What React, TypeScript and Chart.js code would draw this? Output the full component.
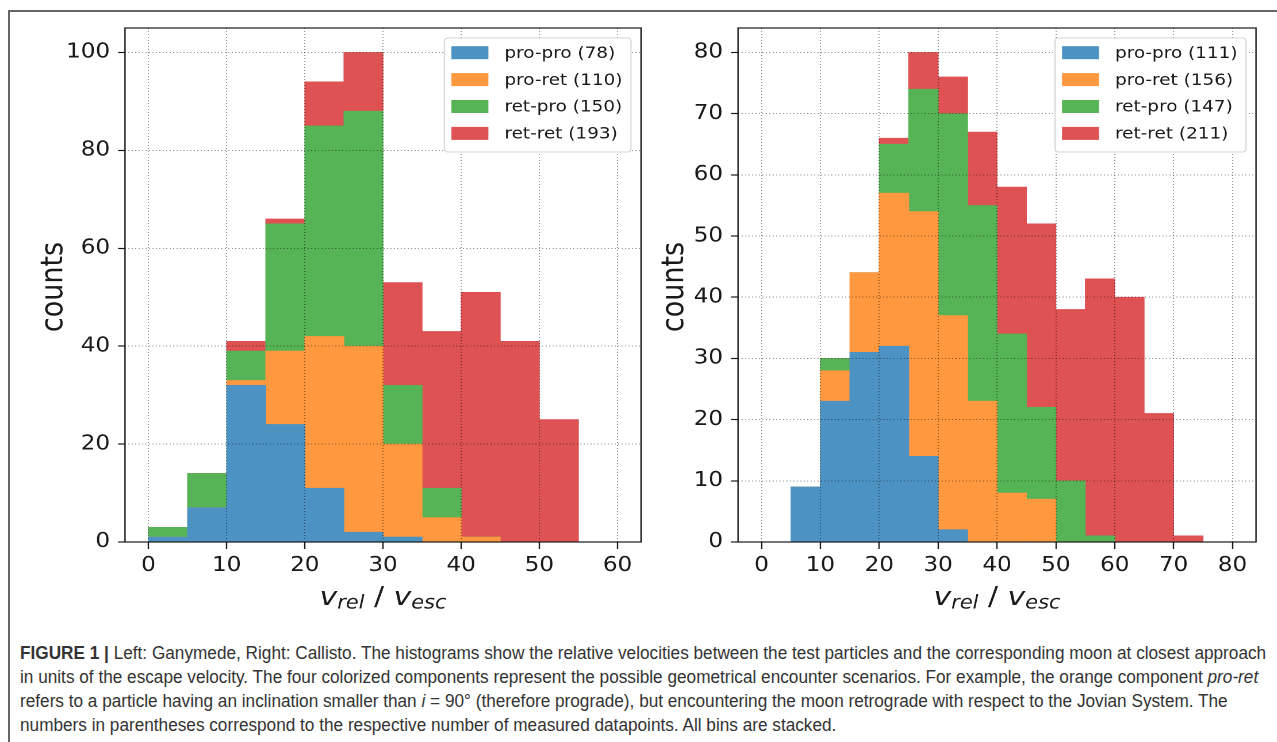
import React, { useEffect, useLayoutEffect, useRef, useState } from "react";
import { Chart, registerables } from "chart.js";

Chart.register(...registerables);

// The reference figure is stretched horizontally relative to its glyph heights.
const SX = 1.15;
const FONT = "'DejaVu Sans', 'Noto Sans', sans-serif";
const INK = "#1a1a1a";
const GRID = "rgba(0,0,0,0.42)";

const binWidth = 5;
const seriesNames = ["pro-pro", "pro-ret", "ret-pro", "ret-ret"];
const seriesColors = ["#4c92c3", "#ff983e", "#56b356", "#de5253"];

// Left panel: Ganymede
const ganyBinStarts = [0, 5, 10, 15, 20, 25, 30, 35, 40, 45, 50, 55];
const ganyProPro = [1, 7, 32, 24, 11, 2, 1, 0, 0, 0, 0, 0];
const ganyProRet = [0, 0, 1, 15, 31, 38, 19, 5, 1, 0, 0, 0];
const ganyRetPro = [2, 7, 6, 26, 43, 48, 12, 6, 0, 0, 0, 0];
const ganyRetRet = [0, 0, 2, 1, 9, 12, 21, 32, 50, 41, 25, 0];
const ganyCounts = [78, 110, 150, 193];
const ganyXTicks = [0, 10, 20, 30, 40, 50, 60];
const ganyYTicks = [0, 20, 40, 60, 80, 100];

// Right panel: Callisto
const calBinStarts = [0, 5, 10, 15, 20, 25, 30, 35, 40, 45, 50, 55, 60, 65, 70, 75];
const calProPro = [0, 9, 23, 31, 32, 14, 2, 0, 0, 0, 0, 0, 0, 0, 0, 0];
const calProRet = [0, 0, 5, 13, 25, 40, 35, 23, 8, 7, 0, 0, 0, 0, 0, 0];
const calRetPro = [0, 0, 2, 0, 8, 20, 33, 32, 26, 15, 10, 1, 0, 0, 0, 0];
const calRetRet = [0, 0, 0, 0, 1, 6, 6, 12, 24, 30, 28, 42, 40, 21, 1, 0];
const calCounts = [111, 156, 147, 211];
const calXTicks = [0, 10, 20, 30, 40, 50, 60, 70, 80];
const calYTicks = [0, 10, 20, 30, 40, 50, 60, 70, 80];

type PanelProps = {
  binStarts: number[];
  series: number[][];
  counts: number[];
  xMin: number;
  xMax: number;
  yMax: number;
  xTicks: number[];
  yTicks: number[];
  pageLeft: number;
  canvasW: number;
  canvasH: number;
  areaLeft: number;
  areaRight: number;
  areaTop: number;
  areaBottom: number;
  countsX: number;
};

function roundRect(ctx: CanvasRenderingContext2D, x: number, y: number, w: number, h: number, r: number) {
  ctx.beginPath();
  ctx.moveTo(x + r, y);
  ctx.lineTo(x + w - r, y);
  ctx.arcTo(x + w, y, x + w, y + r, r);
  ctx.lineTo(x + w, y + h - r);
  ctx.arcTo(x + w, y + h, x + w - r, y + h, r);
  ctx.lineTo(x + r, y + h);
  ctx.arcTo(x, y + h, x, y + h - r, r);
  ctx.lineTo(x, y + r);
  ctx.arcTo(x, y, x + r, y, r);
  ctx.closePath();
}

function drawXTitle(ctx: CanvasRenderingContext2D, cx: number, baseline: number, size: number) {
  const sub = size * 0.7;
  const parts = [
    { t: "v", font: `italic ${size}px ${FONT}`, dy: 0 },
    { t: "rel", font: `italic ${sub}px ${FONT}`, dy: size * 0.13 },
    { t: " / ", font: `${size}px ${FONT}`, dy: 0 },
    { t: "v", font: `italic ${size}px ${FONT}`, dy: 0 },
    { t: "esc", font: `italic ${sub}px ${FONT}`, dy: size * 0.13 },
  ];
  let total = 0;
  const widths = parts.map((p) => {
    ctx.font = p.font;
    const w = ctx.measureText(p.t).width;
    total += w;
    return w;
  });
  let x = cx - total / 2;
  ctx.textAlign = "left";
  ctx.textBaseline = "alphabetic";
  ctx.fillStyle = INK;
  parts.forEach((p, i) => {
    ctx.font = p.font;
    ctx.fillText(p.t, x, baseline + p.dy);
    x += widths[i];
  });
}

function Panel(props: PanelProps) {
  const ref = useRef<HTMLCanvasElement>(null);
  useEffect(() => {
    const canvas = ref.current as HTMLCanvasElement;
    const p = props;
    const datasets = p.series.map((vals, i) => ({
      label: seriesNames[i],
      data: p.binStarts.map((s, j) => ({ x: s + binWidth / 2, y: vals[j] })),
      backgroundColor: seriesColors[i],
      borderWidth: 0,
      barPercentage: 1,
      categoryPercentage: 1,
    }));

    const decor = {
      id: "decor",
      afterDraw(chart: any) {
        const ctx: CanvasRenderingContext2D = chart.ctx;
        const a = chart.chartArea;
        ctx.save();
        // spines
        ctx.strokeStyle = INK;
        ctx.lineWidth = 1.2;
        ctx.strokeRect(a.left, a.top, a.right - a.left, a.bottom - a.top);
        ctx.restore();

        // y title
        ctx.save();
        ctx.fillStyle = INK;
        ctx.font = `27px ${FONT}`;
        ctx.translate(p.countsX, (a.top + a.bottom) / 2 + 2);
        ctx.rotate(-Math.PI / 2);
        ctx.textAlign = "center";
        ctx.textBaseline = "alphabetic";
        ctx.fillText("counts", 0, 0);
        ctx.restore();

        // x title
        ctx.save();
        drawXTitle(ctx, (a.left + a.right) / 2, 605, 26);
        ctx.restore();

        // legend
        ctx.save();
        ctx.font = `16px ${FONT}`;
        const labels = seriesNames.map((n, i) => `${n} (${p.counts[i]})`);
        const tw = Math.max(...labels.map((l) => ctx.measureText(l).width));
        const textOff = 60 / SX;
        const boxW = textOff + tw + 8.5 / SX;
        const boxH = 114;
        const boxR = a.right - 10 / SX;
        const boxL = boxR - boxW;
        const boxT = a.top + 10;
        roundRect(ctx, boxL, boxT, boxW, boxH, 3);
        ctx.fillStyle = "#ffffff";
        ctx.fill();
        ctx.strokeStyle = "#d4d4d4";
        ctx.lineWidth = 1;
        ctx.stroke();
        labels.forEach((l, i) => {
          const cy = boxT + 14.7 + i * 26.9;
          ctx.fillStyle = seriesColors[i];
          ctx.fillRect(boxL + 7 / SX, cy - 6.5, 37 / SX, 13);
          ctx.fillStyle = INK;
          ctx.textAlign = "left";
          ctx.textBaseline = "middle";
          ctx.fillText(l, boxL + textOff, cy + 1);
        });
        ctx.restore();
      },
    };

    const chart = new Chart(canvas, {
      type: "bar",
      data: { datasets } as any,
      options: {
        animation: false,
        responsive: false,
        devicePixelRatio: 2,
        events: [],
        layout: { padding: { left: 0, top: p.areaTop, right: p.canvasW - p.areaRight, bottom: 0 } },
        plugins: { legend: { display: false }, tooltip: { enabled: false } },
        scales: {
          x: {
            type: "linear",
            stacked: true,
            offset: false,
            min: p.xMin,
            max: p.xMax,
            afterBuildTicks: (s: any) => {
              s.ticks = p.xTicks.map((v) => ({ value: v }));
            },
            afterFit: (s: any) => {
              s.height = p.canvasH - p.areaBottom;
            },
            grid: {
              offset: false,
              z: 1,
              color: GRID,
              lineWidth: 1,
              tickLength: 7,
              tickColor: INK,
              tickWidth: 1.2,
              tickBorderDash: [],
            },
            border: { display: false, dash: [1, 2] },
            ticks: {
              padding: 5,
              color: INK,
              font: { size: 20, family: FONT },
              maxRotation: 0,
              autoSkip: false,
            },
          },
          y: {
            type: "linear",
            stacked: true,
            min: 0,
            max: p.yMax,
            afterBuildTicks: (s: any) => {
              s.ticks = p.yTicks.map((v) => ({ value: v }));
            },
            afterFit: (s: any) => {
              s.width = p.areaLeft;
            },
            grid: {
              z: 1,
              color: GRID,
              lineWidth: 1,
              tickLength: 6,
              tickColor: INK,
              tickWidth: 1.2,
              tickBorderDash: [],
            },
            border: { display: false, dash: [1, 2] },
            ticks: {
              padding: 7,
              color: INK,
              font: { size: 20, family: FONT },
              autoSkip: false,
            },
          },
        },
      } as any,
      plugins: [decor as any],
    });
    return () => chart.destroy();
  }, []);

  return (
    <div
      style={{
        position: "absolute",
        left: props.pageLeft,
        top: 0,
        width: props.canvasW,
        height: props.canvasH,
        transform: `scaleX(${SX})`,
        transformOrigin: "0 0",
      }}
    >
      <canvas ref={ref} width={props.canvasW} height={props.canvasH} />
    </div>
  );
}

const captionLine1Width = 1246;

function Caption() {
  const firstRef = useRef<HTMLSpanElement>(null);
  const [k, setK] = useState(1);
  useLayoutEffect(() => {
    const measure = () => {
      const el = firstRef.current;
      if (!el) return;
      // offsetWidth is the untransformed layout width
      const w = el.offsetWidth;
      if (w > 0) setK(captionLine1Width / w);
    };
    measure();
    if ((document as any).fonts && (document as any).fonts.ready) {
      (document as any).fonts.ready.then(measure);
    }
  }, []);
  const lineStyle: React.CSSProperties = { whiteSpace: "nowrap", height: 24, lineHeight: "24px" };
  return (
    <div
      style={{
        position: "absolute",
        left: 20,
        top: 641,
        fontFamily: "'Liberation Sans Narrow', 'Liberation Sans', Arial, sans-serif",
        fontSize: 17.5,
        color: "#333333",
        transform: `scaleX(${k})`,
        transformOrigin: "0 0",
      }}
    >
      <div style={lineStyle}>
        <span ref={firstRef} style={{ display: "inline-block" }}>
          <b>FIGURE 1 |</b> Left: Ganymede, Right: Callisto. The histograms show the relative velocities between the
          test particles and the corresponding moon at closest approach
        </span>
      </div>
      <div style={lineStyle}>
        in units of the escape velocity. The four colorized components represent the possible geometrical encounter
        scenarios. For example, the orange component <i>pro-ret</i>
      </div>
      <div style={lineStyle}>
        refers to a particle having an inclination smaller than <i>i</i> = 90° (therefore prograde), but encountering
        the moon retrograde with respect to the Jovian System. The
      </div>
      <div style={lineStyle}>
        numbers in parentheses correspond to the respective number of measured datapoints. All bins are stacked.
      </div>
    </div>
  );
}

export default function App() {
  return (
    <div
      style={{
        position: "fixed",
        left: 0,
        top: 0,
        width: 1277,
        height: 742,
        overflow: "hidden",
        background: "#ffffff",
      }}
    >
      <div
        style={{
          position: "absolute",
          left: 8,
          top: 10,
          width: 1320,
          height: 820,
          border: "2px solid #666666",
          boxSizing: "border-box",
        }}
      />
      <Panel
        binStarts={ganyBinStarts}
        series={[ganyProPro, ganyProRet, ganyRetPro, ganyRetRet]}
        counts={ganyCounts}
        xMin={-3}
        xMax={63}
        yMax={105}
        xTicks={ganyXTicks}
        yTicks={ganyYTicks}
        pageLeft={0}
        canvasW={561}
        canvasH={640}
        areaLeft={125 / SX}
        areaRight={641 / SX}
        areaTop={28}
        areaBottom={542}
        countsX={62 / SX}
      />
      <Panel
        binStarts={calBinStarts}
        series={[calProPro, calProRet, calRetPro, calRetRet]}
        counts={calCounts}
        xMin={-4}
        xMax={84}
        yMax={84}
        xTicks={calXTicks}
        yTicks={calYTicks}
        pageLeft={645}
        canvasW={550}
        canvasH={640}
        areaLeft={(738 - 645) / SX}
        areaRight={(1256 - 645) / SX}
        areaTop={28}
        areaBottom={542}
        countsX={(683 - 645) / SX}
      />
      <Caption />
    </div>
  );
}
